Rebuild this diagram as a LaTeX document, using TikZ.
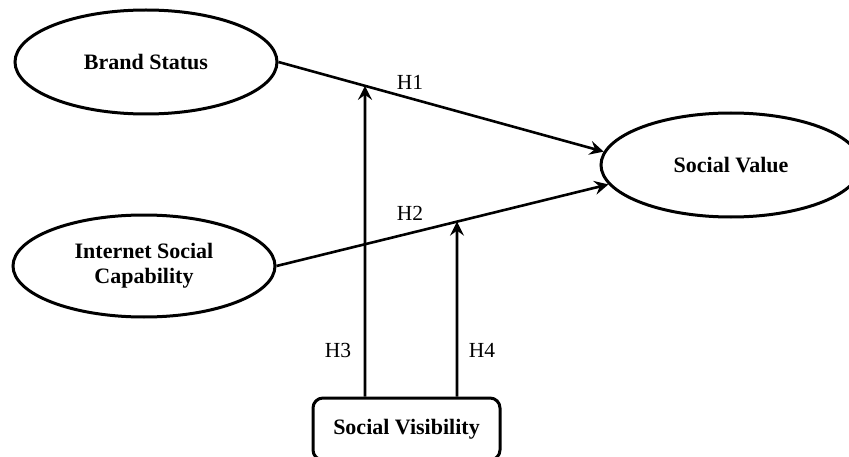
\documentclass[tikz,border=0pt]{standalone}
\usepackage{fontspec}
\setmainfont{Liberation Serif}
\usetikzlibrary{shapes.geometric,arrows.meta,intersections}
\begin{document}
\begin{tikzpicture}[x=1pt,y=1pt,
  construct/.style={ellipse,draw,line width=3pt,inner sep=0pt,
    minimum width=262pt,minimum height=104pt,align=center,
    font=\fontsize{22}{25}\selectfont\bfseries},
  modbox/.style={rectangle,draw,line width=3pt,rounded corners=10pt,
    minimum width=187pt,minimum height=62pt,
    font=\fontsize{22}{25}\selectfont\bfseries},
  path/.style={line width=2.6pt,-{Stealth[length=14pt,width=14pt,inset=5pt]}},
  hlabel/.style={font=\fontsize{21.5}{24}\selectfont,inner sep=0pt}]
  \useasboundingbox (0,0) rectangle (849,456);
  \clip (0,0) rectangle (849,456);

  % constructs
  \node[construct] (bs)  at (146,394) {Brand Status};
  \node[construct, minimum height=102pt] (isc) at (144,190) {Internet Social\\Capability};
  \node[construct, minimum width=260pt] (sv) at (731,291) {Social Value};
  \node[modbox] (vis) at (406.5,27) {Social Visibility};

  % direct effects
  \draw[path, name path=h1] (bs.east) -- (sv.174);
  \draw[path, name path=h2] (isc.east) -- (sv.189);

  % moderating effects
  \coordinate (x3) at (365,0);
  \coordinate (x4) at (457,0);
  \path[name path=v3] (vis.north -| x3) -- ++(0,400);
  \path[name path=v4] (vis.north -| x4) -- ++(0,400);
  \path[name intersections={of=h1 and v3, by=m3}];
  \path[name intersections={of=h2 and v4, by=m4}];
  \draw[path] (vis.north -| x3) -- (m3);
  \draw[path] (vis.north -| x4) -- (m4);

  % hypothesis labels
  \node[hlabel] (l1) at (410,374) {H1};
  \node[hlabel] (l2) at (410,243) {H2};
  \node[hlabel] (l3) at (338,106) {H3};
  \node[hlabel] (l4) at (482,106) {H4};
\end{tikzpicture}
\end{document}
